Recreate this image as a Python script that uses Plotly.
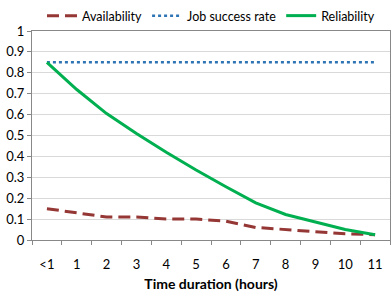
import plotly.graph_objects as go

categories = ["<1", "1", "2", "3", "4", "5", "6", "7", "8", "9", "10", "11"]
availability = [0.15, 0.13, 0.11, 0.11, 0.10, 0.10, 0.09, 0.06, 0.05, 0.04, 0.03, 0.025]
job_success = [0.85] * 12
reliability = [0.85, 0.72, 0.605, 0.51, 0.42, 0.335, 0.255, 0.178, 0.122, 0.085, 0.05, 0.025]

FONT = "Lato"

fig = go.Figure()
fig.add_trace(go.Scatter(x=categories, y=availability, mode="lines", name="Availability",
                         line=dict(color="#953735", width=3, dash="12px,6px")))
fig.add_trace(go.Scatter(x=categories, y=job_success, mode="lines", name="Job success rate",
                         line=dict(color="#2e75b6", width=2.5, dash="dot")))
fig.add_trace(go.Scatter(x=categories, y=reliability, mode="lines", name="Reliability",
                         line=dict(color="#00b050", width=3)))

fig.update_layout(
    width=391, height=296,
    margin=dict(l=32, r=1, t=25, b=56),
    paper_bgcolor="white", plot_bgcolor="white",
    font=dict(family=FONT, size=13, color="#000000"),
    legend=dict(orientation="h", x=0.5, xanchor="center", y=1.0, yanchor="bottom",
                font=dict(size=12.5), itemwidth=30, tracegroupgap=0,
                bgcolor="rgba(0,0,0,0)"),
    xaxis=dict(
        type="category", range=[-0.5, 11.5],
        tickson="boundaries", ticks="outside", ticklen=4, tickcolor="#888888",
        showline=True, linecolor="#888888", linewidth=1, mirror=True,
        showgrid=False, tickfont=dict(size=13), ticklabelstandoff=12,
        title=dict(text="<b>Time duration (hours)</b>", font=dict(size=14), standoff=8),
    ),
    yaxis=dict(
        range=[0, 1], dtick=0.1, tickformat="~g",
        ticks="outside", ticklen=4, tickcolor="#888888",
        showline=True, linecolor="#888888", linewidth=1, mirror=True,
        showgrid=True, gridcolor="#d9d9d9", gridwidth=1,
        zeroline=False, tickfont=dict(size=13),
    ),
)

fig.write_html("out.html", config={"displayModeBar": False},
               post_script="document.body.style.margin='0px';document.body.style.overflow='hidden';")
